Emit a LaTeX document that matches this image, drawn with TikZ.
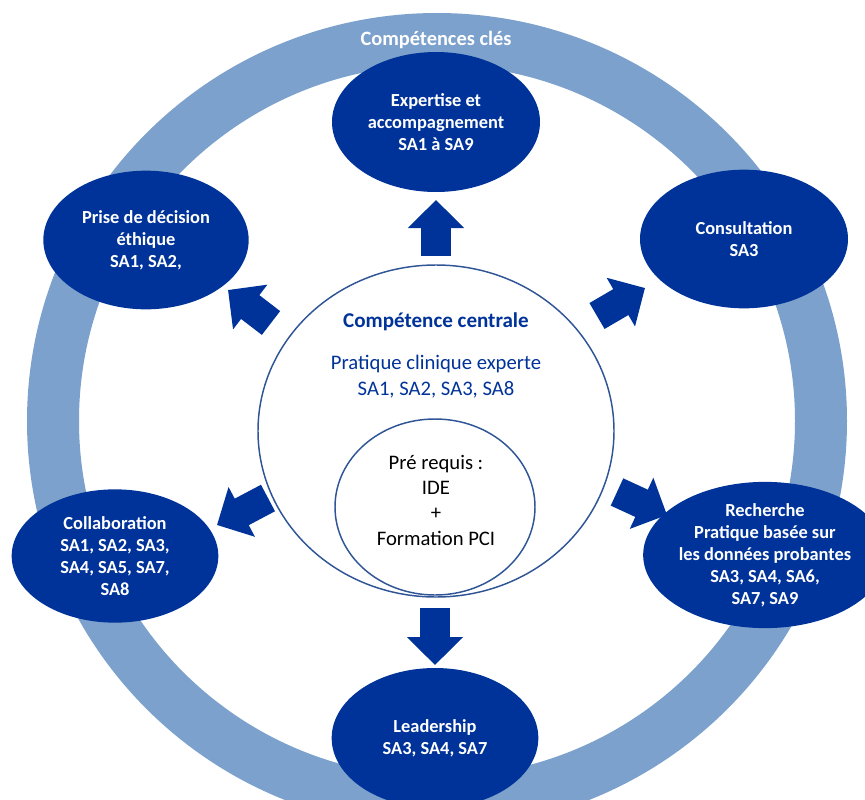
\documentclass[tikz,border=0pt]{standalone}
\usepackage{fontspec}
\setmainfont{Carlito}
\usepackage{tikz}
\usetikzlibrary{arrows.meta,shapes.geometric}
\definecolor{ringblue}{RGB}{124,161,204}
\definecolor{darkblue}{RGB}{0,51,153}
\definecolor{lineblue}{RGB}{47,85,151}

\begin{document}
\begin{tikzpicture}[
    x=0.75pt, y=-0.75pt,
    ring/.style     ={draw=ringblue, line width=39pt},
    ringlabel/.style={text=white, font=\fontsize{15.3}{18}\selectfont\bfseries},
    comp/.style     ={ellipse, fill=darkblue, text=white, align=center, inner sep=0pt,
                      font=\fontsize{13.8}{16.5}\selectfont\bfseries},
    core/.style     ={ellipse, draw=lineblue, line width=1.1pt, fill=white, inner sep=0pt},
    coretitle/.style={text=darkblue, font=\fontsize{15.8}{19}\selectfont\bfseries},
    coretext/.style ={text=darkblue, align=center, font=\fontsize{15.5}{19.5}\selectfont},
    pretext/.style  ={align=center, font=\fontsize{15.5}{19}\selectfont},
    bigarrow/.style ={draw=darkblue, line width=22.5pt, -{Triangle[length=21pt, width=41pt]}},
  ]
  \useasboundingbox (0,0) rectangle (865,800);
  \clip (0,0) rectangle (865,800);
  % outer ring
  \draw[ring] (437,421) ellipse [x radius=384, y radius=382];
  \node[ringlabel] (cles) at (436,40) {Compétences clés};
  % key competences
  \node[comp, minimum width=156pt, minimum height=105pt] (expert) at (436,122)
    {Expertise et\\accompagnement\\SA1 à SA9};
  \node[comp, minimum width=156pt, minimum height=104pt] (consult) at (744,239)
    {Consultation\\SA3};
  \node[comp, minimum width=154pt, minimum height=104pt] (ethique) at (146,240)
    {Prise de décision\\éthique\\SA1, SA2,};
  \node[comp, minimum width=155pt, minimum height=100pt] (collab) at (115,556)
    {Collaboration\\SA1, SA2, SA3,\\SA4, SA5, SA7,\\SA8};
  \node[comp, minimum width=152pt, minimum height=105pt] (recherche) at (765,555)
    {Recherche\\Pratique basée sur\\les données probantes\\SA3, SA4, SA6,\\SA7, SA9};
  \node[comp, minimum width=155pt, minimum height=105pt] (leader) at (435,738)
    {Leadership\\SA3, SA4, SA7};
  % central competence
  \node[core, minimum width=267pt, minimum height=249pt] (centre) at (436,431) {};
  \node[coretitle] (ctitle) at (436,322) {Compétence centrale};
  \node[coretext] (ctext) at (436,377) {Pratique clinique experte\\SA1, SA2, SA3, SA8};
  \node[core, minimum width=150pt, minimum height=132pt] (prereq) at (435,507) {};
  \node[pretext] (ptext) at (436,500) {Pré requis :\\IDE\\+\\Formation PCI};
  % arrows
  \coordinate (upT) at (436,256);   \coordinate (upH) at (436,200);
  \coordinate (dnT) at (435,608);   \coordinate (dnH) at (435,665);
  \coordinate (ulT) at (271,323);   \coordinate (ulH) at (228,290);
  \coordinate (urT) at (597,316);   \coordinate (urH) at (645,288);
  \coordinate (llT) at (268,498);   \coordinate (llH) at (217,525);
  \coordinate (lrT) at (617,492);   \coordinate (lrH) at (667,515);
  \draw[bigarrow] (upT) -- (upH);
  \draw[bigarrow] (dnT) -- (dnH);
  \draw[bigarrow] (ulT) -- (ulH);
  \draw[bigarrow] (urT) -- (urH);
  \draw[bigarrow] (llT) -- (llH);
  \draw[bigarrow] (lrT) -- (lrH);
\end{tikzpicture}
\end{document}
